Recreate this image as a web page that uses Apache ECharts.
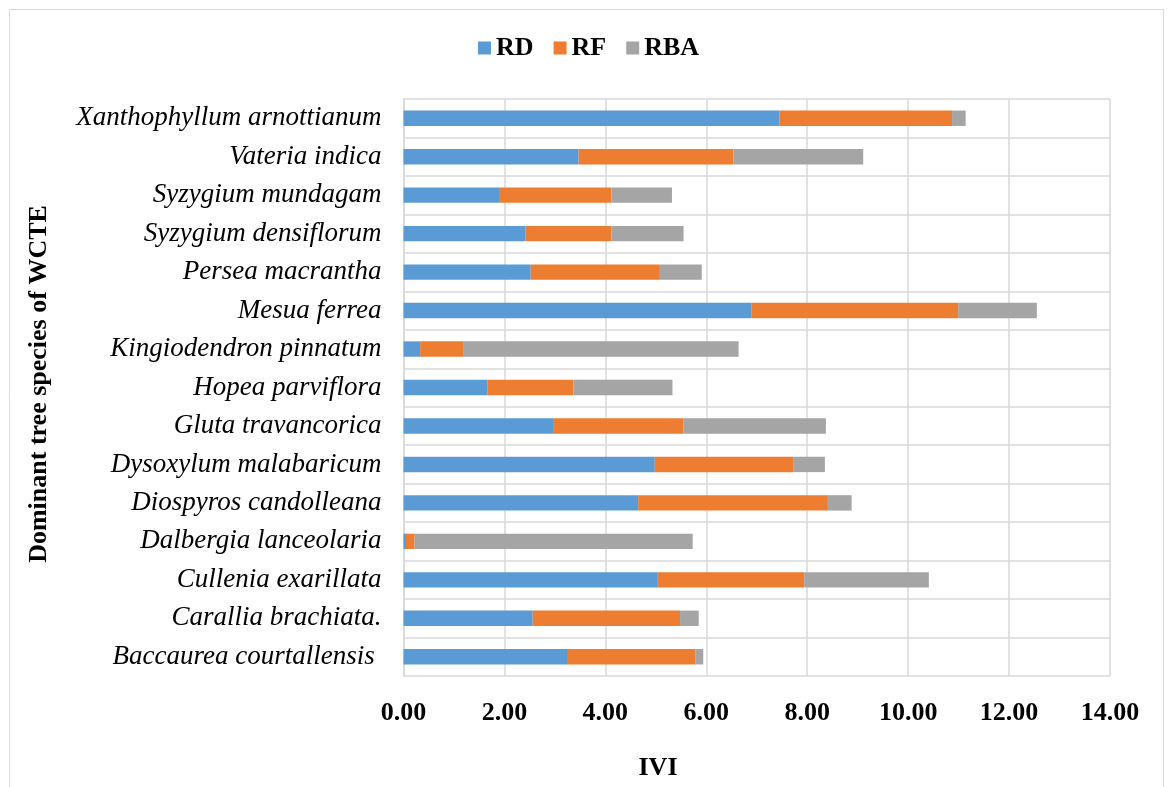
<!DOCTYPE html>
<html>
<head>
<meta charset="utf-8">
<style>
  html, body { margin: 0; padding: 0; background: #ffffff; }
  #chart { width: 1169px; height: 787px; }
</style>
<script src="https://cdn.jsdelivr.net/npm/echarts@6/dist/echarts.min.js"></script>
</head>
<body>
<div id="chart"></div>
<script>
// Dominant tree species (top to bottom as listed on the axis)
const species = [
  'Xanthophyllum arnottianum',
  'Vateria indica',
  'Syzygium mundagam',
  'Syzygium densiflorum',
  'Persea macrantha',
  'Mesua ferrea',
  'Kingiodendron pinnatum',
  'Hopea parviflora',
  'Gluta travancorica',
  'Dysoxylum malabaricum',
  'Diospyros candolleana',
  'Dalbergia lanceolaria',
  'Cullenia exarillata',
  'Carallia brachiata.',
  'Baccaurea courtallensis '
];

// Relative density
const rd  = [7.45, 3.47, 1.91, 2.42, 2.52, 6.89, 0.33, 1.66, 2.98, 4.98, 4.65, 0.05, 5.04, 2.56, 3.24];
// Relative frequency
const rf  = [3.42, 3.07, 2.21, 1.70, 2.56, 4.10, 0.85, 1.71, 2.57, 2.74, 3.76, 0.17, 2.90, 2.92, 2.55];
// Relative basal area
const rba = [0.27, 2.57, 1.20, 1.43, 0.83, 1.56, 5.46, 1.96, 2.82, 0.63, 0.47, 5.51, 2.47, 0.37, 0.15];

const xTicks = { min: 0, max: 14, step: 2 };

const serif = '"Liberation Serif", "Times New Roman", serif';
const gridColor = '#d9d9d9';

const chart = echarts.init(document.getElementById('chart'), null, { renderer: 'canvas' });

function stackSeries(name, values, color) {
  return {
    name: name,
    type: 'bar',
    stack: 'ivi',
    data: values,
    barCategoryGap: '60%',
    itemStyle: { color: color },
    emphasis: { disabled: true }
  };
}

chart.setOption({
  animation: false,
  backgroundColor: '#ffffff',
  textStyle: { fontFamily: serif },
  graphic: [
    {
      type: 'rect',
      silent: true,
      shape: { x: 9.5, y: 9.5, width: 1154, height: 800 },
      style: { fill: 'none', stroke: '#d9d9d9', lineWidth: 1 }
    },
    {
      type: 'text',
      silent: true,
      x: 658, y: 768,
      style: {
        text: 'IVI', fontFamily: serif, fontWeight: 'bold', fontSize: 26,
        fill: '#000000', align: 'center', verticalAlign: 'middle'
      }
    },
    {
      type: 'text',
      silent: true,
      x: 39, y: 384,
      rotation: Math.PI / 2,
      style: {
        text: 'Dominant tree species of WCTE', fontFamily: serif, fontWeight: 'bold',
        fontSize: 26, fill: '#000000', align: 'center', verticalAlign: 'middle'
      }
    }
  ],
  legend: {
    top: 35,
    left: 478,
    padding: 0,
    itemWidth: 13,
    itemHeight: 13,
    itemGap: 20,
    icon: 'rect',
    textStyle: { fontFamily: serif, fontWeight: 'bold', fontSize: 26, color: '#000000' },
    data: ['RD', 'RF', 'RBA']
  },
  grid: { left: 403.5, right: 59, top: 99, bottom: 111, containLabel: false },
  xAxis: {
    type: 'value',
    min: xTicks.min,
    max: xTicks.max,
    interval: xTicks.step,
    axisLine: { show: false },
    axisTick: { show: false },
    axisLabel: {
      margin: 24,
      fontFamily: serif, fontWeight: 'bold', fontSize: 26, color: '#000000',
      formatter: v => v.toFixed(2)
    },
    splitLine: { show: true, lineStyle: { color: gridColor, width: 1.5 } }
  },
  yAxis: {
    type: 'category',
    inverse: true,
    data: species,
    axisLine: { show: true, lineStyle: { color: gridColor, width: 1.5 } },
    axisTick: { show: false },
    axisLabel: {
      margin: 22,
      fontFamily: serif, fontStyle: 'italic', fontSize: 27, color: '#000000'
    },
    splitLine: { show: true, lineStyle: { color: gridColor, width: 1.5 } }
  },
  series: [
    stackSeries('RD', rd, '#5b9bd5'),
    stackSeries('RF', rf, '#ed7d31'),
    stackSeries('RBA', rba, '#a5a5a5')
  ]
});
</script>
</body>
</html>
